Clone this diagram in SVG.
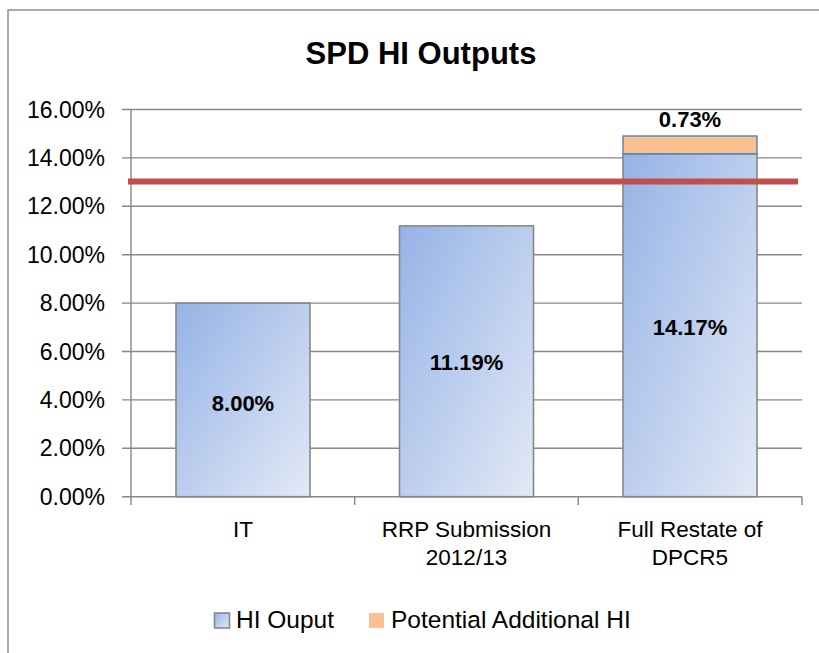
<svg xmlns="http://www.w3.org/2000/svg" width="819" height="653" viewBox="0 0 819 653">
<style>
text{font-family:"Liberation Sans",Arial,sans-serif;fill:#000}
.ax{font-size:23px;text-anchor:end}
.cat{font-size:22.5px;text-anchor:middle}
.val{font-size:22px;font-weight:bold;text-anchor:middle}
.leg{font-size:24.5px}
.grid{stroke:#878787;stroke-width:1.4;fill:none}
.bar{fill:url(#blue);stroke:#878787;stroke-width:1.6}
</style>
<defs>
<linearGradient id="blue" x1="0" y1="0" x2="1" y2="1">
<stop offset="0" stop-color="#95B3E6"/>
<stop offset="1" stop-color="#E3E9F6"/>
</linearGradient>
</defs>
<rect x="0" y="0" width="819" height="653" fill="#fff"/>
<rect x="8" y="10" width="830" height="700" fill="#fff" stroke="#878787" stroke-width="1.4"/>
<g id="title"><text x="421" y="64" style="font-size:31px;font-weight:bold;text-anchor:middle">SPD HI Outputs</text></g>
<g id="gridlines" class="grid">
<path d="M122 109.5H802M122 157.9H802M122 206.3H802M122 254.7H802M122 303.1H802M122 351.5H802M122 399.9H802M122 448.3H802"/>
<path d="M122 496.7H802M131 109.5V505M354.7 496.7V505M578.3 496.7V505M802 496.7V505"/>
</g>
<g id="yaxis-labels">
<text class="ax" x="105" y="117.5">16.00%</text>
<text class="ax" x="105" y="165.9">14.00%</text>
<text class="ax" x="105" y="214.3">12.00%</text>
<text class="ax" x="105" y="262.7">10.00%</text>
<text class="ax" x="105" y="311.1">8.00%</text>
<text class="ax" x="105" y="359.5">6.00%</text>
<text class="ax" x="105" y="407.9">4.00%</text>
<text class="ax" x="105" y="456.3">2.00%</text>
<text class="ax" x="105" y="504.7">0.00%</text>
</g>
<g id="bar-it"><rect class="bar" x="176" y="303.1" width="134" height="193.6"/><text class="val" x="243" y="411">8.00%</text></g>
<g id="bar-rrp"><rect class="bar" x="399.5" y="225.9" width="134" height="270.8"/><text class="val" x="466.5" y="370">11.19%</text></g>
<g id="bar-full"><rect class="bar" x="623" y="153.8" width="134" height="342.9"/><rect x="623" y="136" width="134" height="17.8" fill="#FAC090" stroke="#4F81BD" stroke-width="1.4"/><text class="val" x="690" y="335">14.17%</text><text class="val" x="690" y="127">0.73%</text></g>
<g id="connectors"><line x1="128" y1="181.5" x2="798" y2="181.5" stroke="#C0504D" stroke-width="6"/></g>
<g id="categories">
<text class="cat" x="243" y="537">IT</text>
<text class="cat" x="466.5" y="537">RRP Submission</text>
<text class="cat" x="466.5" y="565">2012/13</text>
<text class="cat" x="690" y="537">Full Restate of</text>
<text class="cat" x="690" y="565">DPCR5</text>
</g>
<g id="legend">
<rect x="214.5" y="613" width="15" height="15" fill="url(#blue)" stroke="#878787" stroke-width="1.6"/>
<text class="leg" x="236" y="628">HI Ouput</text>
<rect x="369" y="613" width="15" height="15" fill="#FAC090"/>
<text class="leg" x="391" y="628">Potential Additional HI</text>
</g>
</svg>
